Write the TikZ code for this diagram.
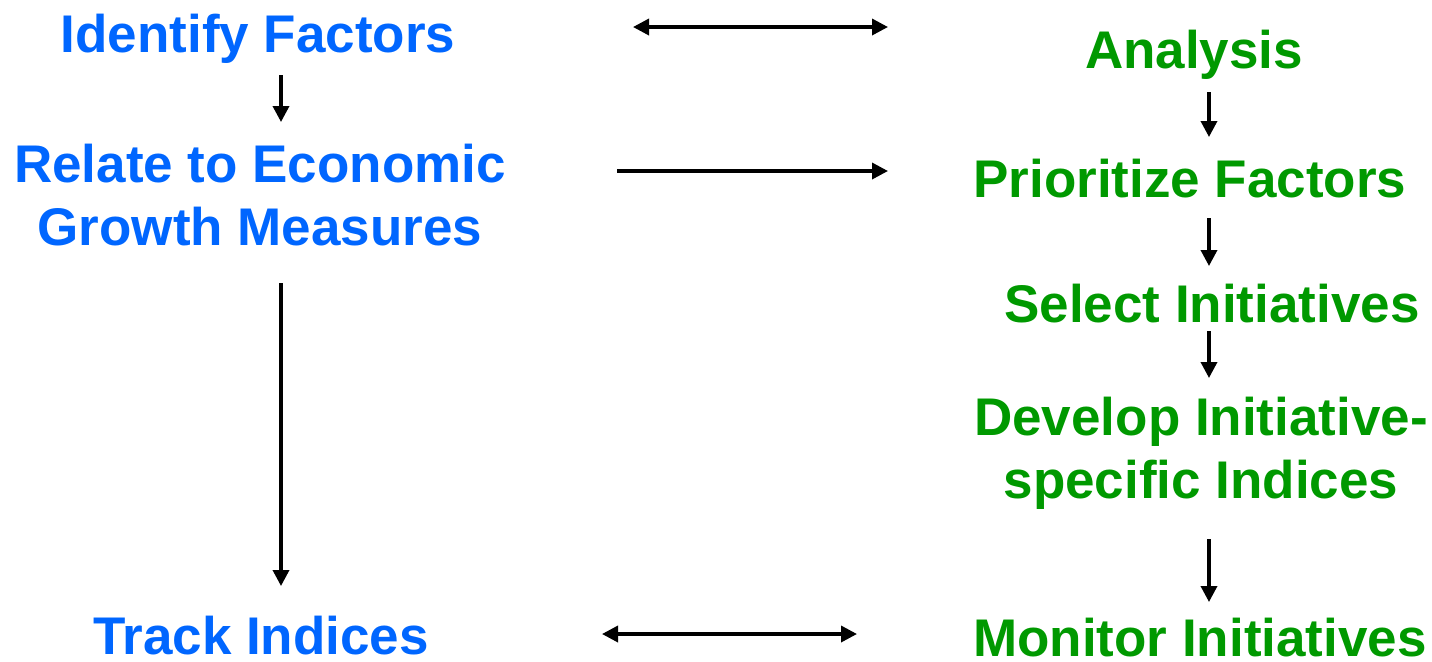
\documentclass[tikz,border=0pt]{standalone}
\usepackage{fontspec}
\setmainfont{Liberation Sans}
\usepackage{tikz}
\usetikzlibrary{arrows.meta}
\definecolor{stepblue}{RGB}{0,102,255}
\definecolor{stepgreen}{RGB}{0,153,0}

\begin{document}
\begin{tikzpicture}[x=0.5pt,y=-0.5pt,
    lbl/.style={anchor=base,inner sep=0pt,align=center,
      font=\fontsize{26.5}{31.5}\selectfont\bfseries},
    left/.style={lbl,text=stepblue},
    right/.style={lbl,text=stepgreen},
    arr/.style={line width=1.75pt,-{Triangle[length=8pt,width=8pt]}},
    dbl/.style={line width=1.75pt,{Triangle[length=8pt,width=8pt]}-{Triangle[length=8pt,width=8pt]}}]
    \useasboundingbox (0,0) rectangle (1432,661);
    % left column
    \node[left] (idf) at (258,52) {Identify Factors};
    \node[left] (rel) at (260,245) {Relate to Economic\\Growth Measures};
    \node[left] (trk) at (261,654) {Track Indices};
    % right column
    \node[right] (ana) at (1194,68) {Analysis};
    \node[right] (pri) at (1190,197) {Prioritize Factors};
    \node[right] (sel) at (1212,322) {Select Initiatives};
    \node[right] (dev) at (1201,498) {Develop Initiative-\\specific Indices};
    \node[right] (mon) at (1200,656) {Monitor Initiatives};
    % arrow ends
    \coordinate (idf-s) at (281,75);   \coordinate (rel-n) at (281,122);
    \coordinate (rel-s) at (281,283);  \coordinate (trk-n) at (281,586);
    \coordinate (ana-s) at (1209,92);  \coordinate (pri-n) at (1209,137);
    \coordinate (pri-s) at (1209,218); \coordinate (sel-n) at (1209,266);
    \coordinate (sel-s) at (1209,331); \coordinate (dev-n) at (1209,378);
    \coordinate (dev-s) at (1209,539); \coordinate (mon-n) at (1209,602);
    \coordinate (top-w) at (633,27);   \coordinate (top-e) at (888,27);
    \coordinate (mid-w) at (617,171);  \coordinate (mid-e) at (888,171);
    \coordinate (bot-w) at (602,634);  \coordinate (bot-e) at (857,634);
    \path[arr]
    (idf-s) edge (rel-n)
    (rel-s) edge (trk-n)
    (ana-s) edge (pri-n)
    (pri-s) edge (sel-n)
    (sel-s) edge (dev-n)
    (dev-s) edge (mon-n)
    (mid-w) edge (mid-e);
    \path[dbl]
    (top-w) edge (top-e)
    (bot-w) edge (bot-e);
\end{tikzpicture}
\end{document}
